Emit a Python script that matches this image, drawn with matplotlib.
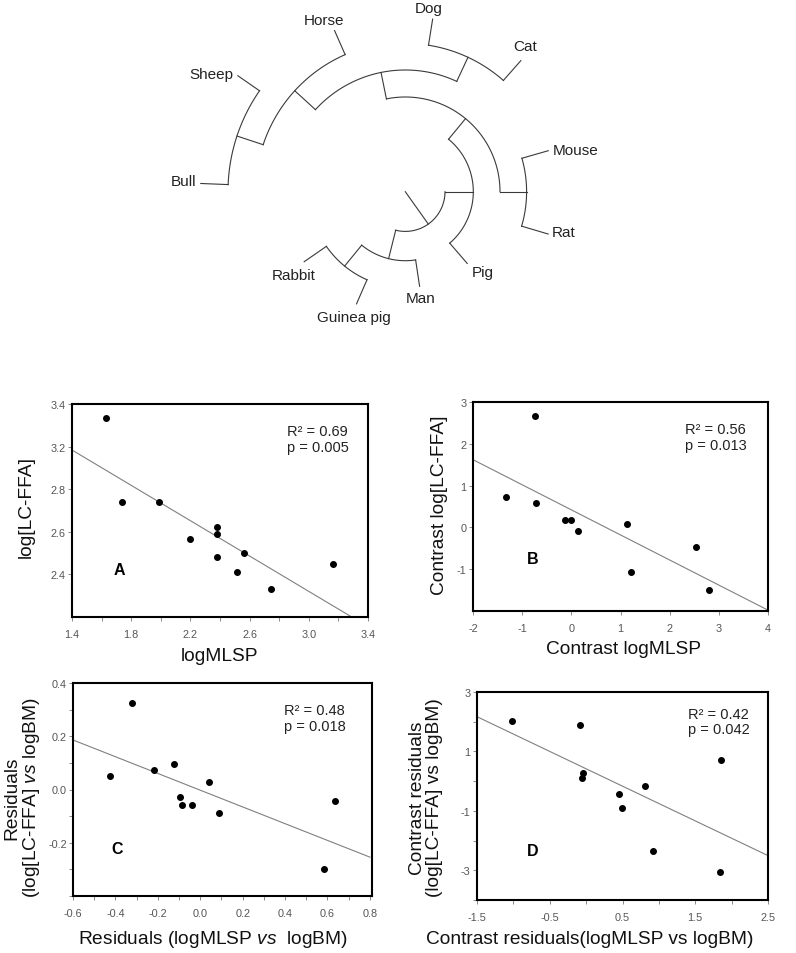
import numpy as np
import matplotlib
matplotlib.use('Agg')
import matplotlib.pyplot as plt
from matplotlib.ticker import FixedLocator, FixedFormatter, MultipleLocator

plt.rcParams['font.family'] = ['Liberation Sans', 'DejaVu Sans']
plt.rcParams['mathtext.fontset'] = 'custom'
plt.rcParams['mathtext.rm'] = 'Liberation Sans'
plt.rcParams['mathtext.it'] = 'Liberation Sans:italic'
plt.rcParams['axes.unicode_minus'] = False

# ---- tree (angle in degrees, radius of node) ----
node_names = ['root', 'n_up', 'Pig', 'n_mid', 'n_rod', 'Mouse', 'Rat', 'n_big',
              'n_carn', 'Dog', 'Cat', 'n_ung', 'Horse', 'n_rum', 'Sheep', 'Bull',
              'n_low', 'Man', 'n_glires', 'Rabbit', 'Guinea pig']
node_parent = [None, 'root', 'n_up', 'n_up', 'n_mid', 'n_rod', 'n_rod', 'n_mid',
               'n_big', 'n_carn', 'n_carn', 'n_big', 'n_ung', 'n_ung', 'n_rum', 'n_rum',
               'root', 'n_low', 'n_low', 'n_glires', 'n_glires']
node_angle = [-54.6, 0, -49.2, 50.5, 0, 16, -16.5, 101.5,
              65, 81, 48.6, 137.6, 113.7, 161.7, 145.3, 177.7,
              -104, -81.4, -129.2, -145.3, -113.5]
node_radius = [39.7, 68, 94.8, 94.7, 121.3, 148.7, 149, 121.7,
               148.3, 174.7, 174.7, 149.7, 176, 177.3, 203.7, 204.7,
               69, 95.7, 96, 123, 122.3]

# ---- panel data ----
a_x = [1.628, 1.736, 1.986, 2.197, 2.382, 2.382, 2.382, 2.560, 2.513, 2.745, 3.161]
a_y = [3.134, 2.741, 2.740, 2.565, 2.621, 2.590, 2.483, 2.499, 2.413, 2.330, 2.447]
a_fit_x = [1.4, 3.29]
a_fit_y = [2.984, 2.2]

b_x = [-0.743, -1.327, -0.716, -0.138, -0.003, 0.140, 1.132, 1.214, 2.532, 2.803]
b_y = [2.675, 0.72, 0.585, 0.173, 0.166, -0.096, 0.086, -1.07, -0.46, -1.489]
b_fit_x = [-2, 4]
b_fit_y = [1.62, -1.98]

c_x = [-0.322, -0.424, -0.220, -0.124, -0.097, -0.085, -0.041, 0.043, 0.090, 0.637, 0.582]
c_y = [0.326, 0.0525, 0.075, 0.096, -0.03, -0.059, -0.06, 0.03, -0.0875, -0.044, -0.30]
c_fit_x = [-0.6, 0.8]
c_fit_y = [0.186, -0.254]

d_x = [-1.022, -0.086, -0.045, -0.058, 0.447, 0.488, 0.810, 1.857, 0.916, 1.834]
d_y = [2.034, 1.899, 0.270, 0.090, -0.449, -0.910, -0.157, 0.708, -2.36, -3.045]
d_fit_x = [-1.5, 2.5]
d_fit_y = [2.169, -2.506]

stats = {'A': 'R² = 0.69\np = 0.005', 'B': 'R² = 0.56\np = 0.013',
         'C': 'R² = 0.48\np = 0.018', 'D': 'R² = 0.42\np = 0.042'}

W, H = 796, 954
fig = plt.figure(figsize=(W / 100, H / 100), dpi=100)


def box(x0, y0, x1, y1):
    # pixel box (top-left origin) -> figure fraction
    return [x0 / W, 1 - y1 / H, (x1 - x0) / W, (y1 - y0) / H]


def ftext(x, y, s, **kw):
    fig.text(x / W, 1 - y / H, s, **kw)


# ---- tree ----
cx, cy = 405.3, 192.7
top_h = 345
ax_t = fig.add_axes(box(0, 0, W, top_h))
ax_t.set_xlim(-cx, W - cx)
ax_t.set_ylim(cy - top_h, cy)
ax_t.axis('off')

ang = dict(zip(node_names, node_angle))
rad = dict(zip(node_names, node_radius))
par = dict(zip(node_names, node_parent))
tree_col = '#3a3a3a'
for n in node_names:
    t = np.radians(ang[n])
    r0 = rad[par[n]] if par[n] else 0
    ax_t.plot([r0 * np.cos(t), rad[n] * np.cos(t)], [r0 * np.sin(t), rad[n] * np.sin(t)],
              color=tree_col, lw=0.8)
    kids = [k for k in node_names if par[k] == n]
    if kids:
        ka = [ang[k] for k in kids]
        tt = np.radians(np.linspace(min(ka), max(ka), 100))
        ax_t.plot(rad[n] * np.cos(tt), rad[n] * np.sin(tt), color=tree_col, lw=0.8)

# label offsets in px (dx, dy up), alignment
label_pos = {'Dog': (-4.4, 10.7, 'center'), 'Cat': (4, 14.4, 'center'),
             'Horse': (-11, 11, 'center'), 'Sheep': (-4.6, 2, 'right'),
             'Bull': (-5, 2.6, 'right'), 'Mouse': (5, 0.7, 'left'),
             'Rat': (4, 1.7, 'left'), 'Pig': (5, -9, 'left'),
             'Man': (0.7, -11.7, 'center'), 'Guinea pig': (-2.4, -13.3, 'center'),
             'Rabbit': (-10.7, -13.7, 'center')}
for n, (dx, dy, ha) in label_pos.items():
    t = np.radians(ang[n])
    ax_t.text(rad[n] * np.cos(t) + dx, rad[n] * np.sin(t) + dy, n, ha=ha, va='center',
              fontsize=11, color='#222222')


# ---- scatter panels ----
def panel(rect, xs, ys, fx, fy, xlim, ylim, letter, letter_pos, stat_pos):
    ax = fig.add_axes(box(*rect))
    ax.plot(fx, fy, color='#808080', lw=0.8)
    ax.plot(xs, ys, 'o', color='black', ms=4, mec='black')
    ax.set_xlim(*xlim)
    ax.set_ylim(*ylim)
    for s in ax.spines.values():
        s.set_linewidth(1.5)
        s.set_color('black')
    ax.tick_params(which='both', direction='out', length=3, width=0.6, color='#777777',
                   labelcolor='#555555', labelsize=7.8)
    ax.tick_params(axis='x', which='both', pad=6)
    ax.tick_params(axis='y', which='both', pad=1.5)
    ax.text(*letter_pos, letter, transform=ax.transAxes, ha='center', va='center',
            fontsize=11.5, fontweight='bold')
    ax.text(*stat_pos, stats[letter], transform=ax.transAxes, ha='left', va='top',
            fontsize=10.5, linespacing=1.15, color='#222222')
    return ax


ax_a = panel((72, 405, 368, 618), a_x, a_y, a_fit_x, a_fit_y, (1.4, 3.4), (2.2, 3.2),
             'A', (0.159, 0.221), (0.725, 0.905))
ax_a.xaxis.set_major_locator(FixedLocator([1.4, 1.8, 2.2, 2.6, 3.0, 3.4]))
ax_a.xaxis.set_major_formatter(FixedFormatter(['1.4', '1.8', '2.2', '2.6', '3.0', '3.4']))
ax_a.xaxis.set_minor_locator(MultipleLocator(0.2))
ax_a.yaxis.set_major_locator(FixedLocator([2.4, 2.6, 2.8, 3.0, 3.2]))
ax_a.yaxis.set_major_formatter(FixedFormatter(['2.4', '2.6', '2.8', '3.2', '3.4']))

ax_b = panel((473, 403, 768, 612), b_x, b_y, b_fit_x, b_fit_y, (-2, 4), (-2, 3),
             'B', (0.203, 0.249), (0.719, 0.905))
ax_b.xaxis.set_major_locator(FixedLocator([-2, -1, 0, 1, 2, 3, 4]))
ax_b.yaxis.set_major_locator(FixedLocator([-1, 0, 1, 2, 3]))

ax_c = panel((73, 684, 372, 897), c_x, c_y, c_fit_x, c_fit_y, (-0.6, 0.81), (-0.4, 0.4),
             'C', (0.147, 0.225), (0.707, 0.905))
ax_c.xaxis.set_major_locator(FixedLocator([-0.6, -0.4, -0.2, 0.0, 0.2, 0.4, 0.6, 0.8]))
ax_c.xaxis.set_major_formatter(FixedFormatter(['-0.6', '-0.4', '-0.2', '0.0', '0.2', '0.4', '0.6', '0.8']))
ax_c.xaxis.set_minor_locator(MultipleLocator(0.1))
ax_c.yaxis.set_major_locator(FixedLocator([-0.2, 0.0, 0.2, 0.4]))
ax_c.yaxis.set_major_formatter(FixedFormatter(['-0.2', '0.0', '0.2', '0.4']))
ax_c.yaxis.set_minor_locator(MultipleLocator(0.1))

ax_d = panel((477, 693, 768, 901), d_x, d_y, d_fit_x, d_fit_y, (-1.5, 2.5), (-4, 3),
             'D', (0.192, 0.236), (0.724, 0.93))
ax_d.xaxis.set_major_locator(FixedLocator([-1.5, -0.5, 0.5, 1.5, 2.5]))
ax_d.xaxis.set_major_formatter(FixedFormatter(['-1.5', '-0.5', '0.5', '1.5', '2.5']))
ax_d.xaxis.set_minor_locator(MultipleLocator(1))
ax_d.yaxis.set_major_locator(FixedLocator([-3, -1, 1, 3]))
ax_d.yaxis.set_minor_locator(MultipleLocator(1))

# axis titles
lab = dict(fontsize=13.8, color='#111111', ha='center', va='center')
ftext(220, 657, 'logMLSP', **lab)
ftext(26, 507, 'log[LC-FFA]', rotation=90, **lab)
ftext(624, 650, 'Contrast logMLSP', **lab)
ftext(440, 505, 'Contrast log[LC-FFA]', rotation=90, **lab)
ftext(213, 940, r'Residuals (logMLSP $\it{vs}$  logBM)', **lab)
ftext(23, 798, 'Residuals\n(log[LC-FFA] $\\it{vs}$ logBM)', rotation=90,
      multialignment='center', linespacing=1.05, **lab)
ftext(590, 940, 'Contrast residuals(logMLSP vs logBM)', **lab)
ftext(426, 798, 'Contrast residuals\n(log[LC-FFA] vs logBM)', rotation=90,
      multialignment='center', linespacing=1.05, **lab)

fig.savefig('out.png', dpi=100)
